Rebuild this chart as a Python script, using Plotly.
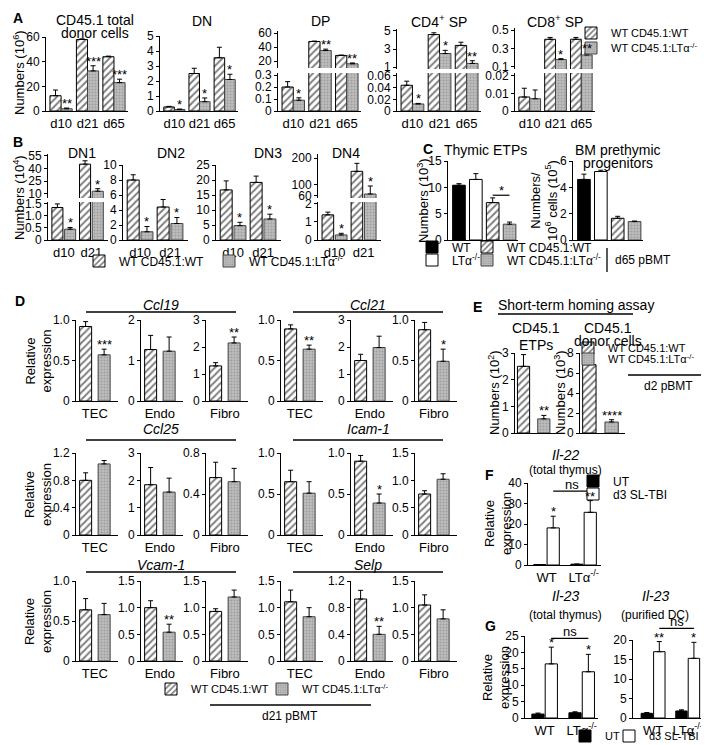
import plotly.graph_objects as go

W, H = 709, 745
FONT = "Liberation Sans, Arial, Helvetica, sans-serif"

# ======================= DATA =======================
days3 = ["d10", "d21", "d65"]
days2 = ["d10", "d21"]

# Panel A  (Numbers, 10^6)
a_total_wt = [12.4, 58.0, 44.0]
a_total_wt_err = [4.6, 0.5, 0.5]
a_total_lt = [1.8, 32.5, 23.0]
a_total_lt_err = [0.6, 4.2, 2.8]
a_total_sig = ["**", "***", "***"]

a_dn_wt = [0.27, 2.5, 3.55]
a_dn_wt_err = [0.04, 0.35, 0.7]
a_dn_lt = [0.1, 0.62, 2.1]
a_dn_lt_err = [0.03, 0.25, 0.35]
a_dn_sig = ["*", "*", "*"]

a_dp_wt = [0.2, 48.0, 28.0]
a_dp_wt_err = [0.045, 0.5, 0.5]
a_dp_lt = [0.09, 35.0, 16.0]
a_dp_lt_err = [0.02, 2.0, 1.2]
a_dp_sig = ["*", "**", "**"]

a_cd4_wt = [0.044, 4.6, 3.4]
a_cd4_wt_err = [0.007, 0.2, 0.35]
a_cd4_lt = [0.012, 2.5, 1.4]
a_cd4_lt_err = [0.001, 0.35, 0.3]
a_cd4_sig = ["*", "*", "**"]

a_cd8_wt = [0.008, 0.40, 0.40]
a_cd8_wt_err = [0.005, 0.02, 0.02]
a_cd8_lt = [0.007, 0.18, 0.23]
a_cd8_lt_err = [0.005, 0.01, 0.02]
a_cd8_sig = ["", "*", "**"]

# Panel B  (Numbers, 10^4)
b_dn1_wt = [1.35, 45.0]
b_dn1_wt_err = [0.15, 4.0]
b_dn1_lt = [0.45, 13.0]
b_dn1_lt_err = [0.07, 3.0]
b_dn1_sig = ["*", "*"]

b_dn2_wt = [8.0, 4.4]
b_dn2_wt_err = [0.7, 1.0]
b_dn2_lt = [1.1, 2.2]
b_dn2_lt_err = [0.7, 0.8]
b_dn2_sig = ["*", "*"]

b_dn3_wt = [16.7, 19.2]
b_dn3_wt_err = [3.0, 2.1]
b_dn3_lt = [4.8, 7.0]
b_dn3_lt_err = [1.1, 1.6]
b_dn3_sig = ["*", "*"]

b_dn4_wt = [1.39, 150.0]
b_dn4_wt_err = [0.15, 30.0]
b_dn4_lt = [0.28, 65.0]
b_dn4_lt_err = [0.09, 30.0]
b_dn4_sig = ["*", "*"]

# Panel C
c_groups = ["WT", "LTα<sup>-/-</sup>", "WT CD45.1:WT", "WT CD45.1:LTα<sup>-/-</sup>"]
c_etp = [10.4, 11.5, 7.1, 3.0]
c_etp_err = [0.3, 1.1, 0.9, 0.4]
c_etp_sigline = 8.5
c_bm = [4.6, 5.2, 1.65, 1.4]
c_bm_err = [0.4, 0.1, 0.15, 0.04]

# Panel D  (Relative expression), cells TEC, Endo, Fibro
d_cells = ["TEC", "Endo", "Fibro"]
d_ccl19_wt = [0.92, 1.27, 1.30]
d_ccl19_wt_err = [0.06, 0.35, 0.12]
d_ccl19_lt = [0.57, 1.23, 2.15]
d_ccl19_lt_err = [0.07, 0.35, 0.22]
d_ccl19_sig = ["***", "", "**"]

d_ccl21_wt = [0.89, 1.50, 0.88]
d_ccl21_wt_err = [0.05, 0.23, 0.09]
d_ccl21_lt = [0.64, 1.98, 0.49]
d_ccl21_lt_err = [0.05, 0.42, 0.15]
d_ccl21_sig = ["**", "", "*"]

d_ccl25_wt = [0.80, 1.84, 0.56]
d_ccl25_wt_err = [0.11, 0.63, 0.15]
d_ccl25_lt = [1.04, 1.57, 0.52]
d_ccl25_lt_err = [0.05, 0.51, 0.13]
d_ccl25_sig = ["", "", ""]

d_icam1_wt = [0.65, 0.90, 0.75]
d_icam1_wt_err = [0.14, 0.07, 0.06]
d_icam1_lt = [0.51, 0.39, 1.02]
d_icam1_lt_err = [0.14, 0.11, 0.10]
d_icam1_sig = ["", "*", ""]

d_vcam1_wt = [0.64, 1.00, 0.93]
d_vcam1_wt_err = [0.14, 0.13, 0.05]
d_vcam1_lt = [0.58, 0.54, 1.20]
d_vcam1_lt_err = [0.14, 0.15, 0.13]
d_vcam1_sig = ["", "**", ""]

d_selp_wt = [1.11, 0.93, 1.05]
d_selp_wt_err = [0.22, 0.13, 0.19]
d_selp_lt = [0.83, 0.40, 0.79]
d_selp_lt_err = [0.17, 0.12, 0.17]
d_selp_sig = ["", "**", ""]

# Panel E
e_labels = ["WT CD45.1:WT", "WT CD45.1:LTα<sup>-/-</sup>"]
e_etp = [2.5, 0.53]
e_etp_err = [0.44, 0.13]
e_etp_sig = ["", "**"]
e_donor = [6.83, 1.1]
e_donor_err = [0.34, 0.23]
e_donor_sig = ["", "****"]

# Panel F / G  (UT vs d3 SL-TBI)
fg_groups = ["WT", "LTα<sup>-/-</sup>"]
f_ut = [0.2, 0.4]
f_ut_err = [0.0, 0.0]
f_sl = [18.1, 25.7]
f_sl_err = [5.7, 5.7]
f_sig = ["*", "**"]
f_ns = 36.0

g1_ut = [1.2, 1.6]
g1_ut_err = [0.3, 0.3]
g1_sl = [16.5, 14.1]
g1_sl_err = [5.1, 5.3]
g1_sig = ["*", "*"]
g1_ns = 24.3

g2_ut = [1.2, 1.8]
g2_ut_err = [0.2, 0.3]
g2_sl = [17.0, 15.3]
g2_sl_err = [2.6, 4.1]
g2_sig = ["**", "*"]
g2_ns = 23.0

# ======================= STYLE / HELPERS =======================
HATCH = dict(color="white", line=dict(color="black", width=1),
             pattern=dict(shape="/", fgcolor="black", bgcolor="white", size=5, solidity=0.4))
DOTS = dict(color="#b0b0b0", line=dict(color="#444444", width=1),
            pattern=dict(shape=".", fgcolor="#808080", bgcolor="#bdbdbd", size=3, solidity=0.35))
BLACK = dict(color="black", line=dict(color="black", width=1))
WHITE = dict(color="white", line=dict(color="black", width=1))

fig = go.Figure()
layout = dict(width=W, height=H, margin=dict(l=0, r=0, t=0, b=0, autoexpand=False),
              paper_bgcolor="white", plot_bgcolor="rgba(0,0,0,0)",
              barmode="overlay", showlegend=True,
              font=dict(family=FONT, size=12, color="black"))
annotations = []
shapes = []
AXES = []


def fmt(v, nd):
    return "0" if v == 0 else f"{v:.{nd}f}"


def make_axes(x0, x1, ytop, ybot, xr, yr, yticks, nd=0, xticks=None, xtext=None,
              show_x=True, xfont=13):
    k = len(AXES) + 1
    s = "" if k == 1 else str(k)
    xd = [x0 / W, x1 / W]
    yd = [1 - ybot / H, 1 - ytop / H]
    layout["xaxis" + s] = dict(domain=xd, range=xr, anchor="y" + s, showline=show_x,
                               linecolor="black", linewidth=1, ticks="", showgrid=False,
                               zeroline=False, tickvals=(xticks if show_x else []),
                               ticktext=(xtext if show_x else []),
                               tickfont=dict(size=xfont), fixedrange=True)
    layout["yaxis" + s] = dict(domain=yd, range=yr, anchor="x" + s, showline=True,
                               linecolor="black", linewidth=1, ticks="outside", ticklen=3,
                               tickwidth=1, tickcolor="black", showgrid=False, zeroline=False,
                               tickvals=yticks, ticktext=[fmt(t, nd) for t in yticks],
                               tickfont=dict(size=12), fixedrange=True)
    ax = dict(x="x" + s, y="y" + s, xd=xd, yd=yd, xr=xr, yr=yr)
    AXES.append(ax)
    return ax


def pxs(ax, v):
    return ax["xd"][0] + (v - ax["xr"][0]) / (ax["xr"][1] - ax["xr"][0]) * (ax["xd"][1] - ax["xd"][0])


def pys(ax, v):
    return ax["yd"][0] + (v - ax["yr"][0]) / (ax["yr"][1] - ax["yr"][0]) * (ax["yd"][1] - ax["yd"][0])


LEGS = []


def legend_at(text_x, y, size=12):
    lid = "legend" + str(len(LEGS) + 2)
    LEGS.append(lid)
    layout[lid] = dict(x=(text_x - 47) / W, y=1 - (y - 7) / H, xanchor="left", yanchor="middle",
                       bgcolor="rgba(0,0,0,0)", borderwidth=0, font=dict(size=size),
                       tracegroupgap=0, itemclick=False, itemdoubleclick=False)
    return lid


def add_bars(ax, xs, ys, err, marker, width, legend=None, name="", clip=True):
    fig.add_trace(go.Bar(x=xs, y=ys, width=width, marker=marker,
                         error_y=dict(type="data", symmetric=False, array=err,
                                      arrayminus=[0] * len(ys), color="black",
                                      thickness=1, width=2.5),
                         xaxis=ax["x"], yaxis=ax["y"], name=name,
                         showlegend=legend is not None, legend=(legend or "legend"),
                         hoverinfo="skip", cliponaxis=clip))


def star(ax, x, y, t, size=13):
    if not t:
        return
    annotations.append(dict(x=pxs(ax, x), y=pys(ax, y), xref="paper", yref="paper", text=t,
                            showarrow=False, xanchor="center", yanchor="bottom", yshift=-5,
                            font=dict(size=size)))


def text(px, py, t, size=13, xanchor="center", angle=0, yanchor="middle"):
    annotations.append(dict(x=px / W, y=1 - py / H, xref="paper", yref="paper", text=t,
                            showarrow=False, xanchor=xanchor, yanchor=yanchor, textangle=angle,
                            font=dict(size=size)))


def line_px(x0, y0, x1, y1, w=1.3):
    shapes.append(dict(type="line", xref="paper", yref="paper", x0=x0 / W, x1=x1 / W,
                       y0=1 - y0 / H, y1=1 - y1 / H, line=dict(color="black", width=w)))


def sig_line(ax, xa, xb, v, t):
    y = pys(ax, v)
    shapes.append(dict(type="line", xref="paper", yref="paper", x0=pxs(ax, xa), x1=pxs(ax, xb),
                       y0=y, y1=y, line=dict(color="black", width=1.2)))
    annotations.append(dict(x=(pxs(ax, xa) + pxs(ax, xb)) / 2, y=y, xref="paper", yref="paper",
                            text=t, showarrow=False, xanchor="center", yanchor="bottom",
                            yshift=-3 if t == "ns" else -5, font=dict(size=13)))


def pair_plot(axes_list, gx, off, w, wt, wte, lt, lte, sig, leg_wt=None, leg_lt=None):
    wx = [g - off for g in gx]
    lx = [g + off for g in gx]
    for i, ax in enumerate(axes_list):
        add_bars(ax, wx, wt, wte, HATCH, w, legend=(leg_wt if i == 0 else None), name="WT CD45.1:WT")
        add_bars(ax, lx, lt, lte, DOTS, w, legend=(leg_lt if i == 0 else None),
                 name="WT CD45.1:LTα<sup>-/-</sup>")
    for j, s in enumerate(sig):
        top = lt[j] + lte[j]
        target = axes_list[-1]
        for ax in axes_list:
            if ax["yr"][0] <= top <= ax["yr"][1]:
                target = ax
        star(target, lx[j], top, s)


# ======================= PANEL A =======================
A_xr = [-0.57, 2.53]
gA = [0, 1, 2]
legA1 = legend_at(610, 32, 11)
legA2 = legend_at(610, 47, 11)
A1 = make_axes(38, 120, 29, 103, A_xr, [0, 60], [0, 20, 40, 60], 0, gA, days3)
pair_plot([A1], gA, 0.21, 0.42, a_total_wt, a_total_wt_err, a_total_lt, a_total_lt_err,
          a_total_sig, legA1, legA2)
A2 = make_axes(152, 230, 28, 103, A_xr, [0, 5], [0, 1, 2, 3, 4, 5], 0, gA, days3)
pair_plot([A2], gA, 0.21, 0.42, a_dn_wt, a_dn_wt_err, a_dn_lt, a_dn_lt_err, a_dn_sig)
A3u = make_axes(270, 353, 23, 60, A_xr, [10, 63], [20, 40, 60], 0, show_x=False)
A3l = make_axes(270, 353, 65, 103, A_xr, [0, 0.317], [0, 0.1, 0.2, 0.3], 1, gA, days3)
pair_plot([A3l, A3u], gA, 0.21, 0.42, a_dp_wt, a_dp_wt_err, a_dp_lt, a_dp_lt_err, a_dp_sig)
A4u = make_axes(389, 473, 21, 61, A_xr, [0.78, 5.22], [1, 3, 5], 0, show_x=False)
A4l = make_axes(389, 473, 65, 103, A_xr, [0, 0.065], [0, 0.02, 0.04, 0.06], 2, gA, days3)
pair_plot([A4l, A4u], gA, 0.21, 0.42, a_cd4_wt, a_cd4_wt_err, a_cd4_lt, a_cd4_lt_err, a_cd4_sig)
A5u = make_axes(507, 587, 20, 61, A_xr, [0.078, 0.522], [0.1, 0.3, 0.5], 1, show_x=False)
A5l = make_axes(507, 587, 65, 103, A_xr, [0, 0.0217], [0, 0.01, 0.02], 2, gA, days3)
pair_plot([A5l, A5u], gA, 0.21, 0.42, a_cd8_wt, a_cd8_wt_err, a_cd8_lt, a_cd8_lt_err, a_cd8_sig)

text(3, 10, "<b>A</b>", 14, xanchor="left")
text(87, 12, "CD45.1 total", 14)
text(87, 25, "donor cells", 14)
text(194, 13, "DN", 14)
text(312, 13, "DP", 14)
text(431, 13, "CD4<sup>+</sup> SP", 14)
text(547, 13, "CD8<sup>+</sup> SP", 14)
text(11, 65, "Numbers (10<sup>6</sup>)", 13, angle=-90)

# ======================= PANEL B =======================
B_xr = [-0.57, 1.6]
gB = [0, 1]
legB1 = legend_at(118, 260)
legB2 = legend_at(248, 260)
B1u = make_axes(40, 100, 146, 190, B_xr, [5, 57], [10, 25, 40, 55], 0, show_x=False)
B1l = make_axes(40, 100, 194, 232, B_xr, [0, 1.58], [0, 0.5, 1.0, 1.5], 1, gB, days2)
pair_plot([B1l, B1u], gB, 0.23, 0.4, b_dn1_wt, b_dn1_wt_err, b_dn1_lt, b_dn1_lt_err, b_dn1_sig,
          legB1, legB2)
B2 = make_axes(115, 180, 157, 232, B_xr, [0, 10], [0, 2, 4, 6, 8, 10], 0, gB, days2)
pair_plot([B2], gB, 0.23, 0.4, b_dn2_wt, b_dn2_wt_err, b_dn2_lt, b_dn2_lt_err, b_dn2_sig)
B3 = make_axes(208, 273, 157, 232, B_xr, [0, 25], [0, 5, 10, 15, 20, 25], 0, gB, days2)
pair_plot([B3], gB, 0.23, 0.4, b_dn3_wt, b_dn3_wt_err, b_dn3_lt, b_dn3_lt_err, b_dn3_sig)
B4u = make_axes(310, 373, 146, 190, B_xr, [50, 215], [60, 100, 200], 0, show_x=False)
B4l = make_axes(310, 373, 194, 232, B_xr, [0, 2.1], [0, 1, 2], 0, gB, days2)
pair_plot([B4l, B4u], gB, 0.23, 0.4, b_dn4_wt, b_dn4_wt_err, b_dn4_lt, b_dn4_lt_err, b_dn4_sig)

text(3, 134, "<b>B</b>", 14, xanchor="left")
text(74, 145, "DN1", 14)
text(163, 145, "DN2", 14)
text(260, 145, "DN3", 14)
text(338, 145, "DN4", 14)
text(11, 190, "Numbers (10<sup>4</sup>)", 13, angle=-90)

# ======================= PANEL C =======================
C_xr = [-0.65, 3.5]
gC = [0, 1, 2, 3]
c_markers = [BLACK, WHITE, HATCH, DOTS]
c_leg = [legend_at(451, 246), legend_at(451, 259), legend_at(506, 246), legend_at(506, 259)]
C1 = make_axes(440, 510, 153, 232, C_xr, [0, 15], [0, 5, 10, 15], 0, [], [])
C2 = make_axes(565, 635, 153, 232, C_xr, [0, 6], [0, 2, 4, 6], 0, [], [])
for i in range(4):
    add_bars(C1, [gC[i]], [c_etp[i]], [c_etp_err[i]], c_markers[i], 0.75,
             legend=c_leg[i], name=c_groups[i])
    add_bars(C2, [gC[i]], [c_bm[i]], [c_bm_err[i]], c_markers[i], 0.75)
sig_line(C1, gC[2], gC[3], c_etp_sigline, "*")

text(413, 141, "<b>C</b>", 14, xanchor="left")
text(478, 142, "Thymic ETPs", 14)
text(610, 142, "BM prethymic", 14)
text(610, 155, "progenitors", 14)
text(415, 193, "Numbers (10<sup>3</sup>)", 13, angle=-90)
text(536, 193, "Numbers/<br>10<sup>6</sup> cells (10<sup>5</sup>)", 13, angle=-90)
line_px(599, 240, 599, 264, 1.3)
text(605, 252, "d65 pBMT", 12, xanchor="left")

# ======================= PANEL D =======================
D_xr = [-0.52, 1.75]
d_genes = [
    ("Ccl19", d_ccl19_wt, d_ccl19_wt_err, d_ccl19_lt, d_ccl19_lt_err, d_ccl19_sig),
    ("Ccl21", d_ccl21_wt, d_ccl21_wt_err, d_ccl21_lt, d_ccl21_lt_err, d_ccl21_sig),
    ("Ccl25", d_ccl25_wt, d_ccl25_wt_err, d_ccl25_lt, d_ccl25_lt_err, d_ccl25_sig),
    ("Icam-1", d_icam1_wt, d_icam1_wt_err, d_icam1_lt, d_icam1_lt_err, d_icam1_sig),
    ("Vcam-1", d_vcam1_wt, d_vcam1_wt_err, d_vcam1_lt, d_vcam1_lt_err, d_vcam1_sig),
    ("Selp", d_selp_wt, d_selp_wt_err, d_selp_lt, d_selp_lt_err, d_selp_sig),
]
d_yaxes = [
    [([0, 0.5, 1.0], 1), ([0, 1, 2], 0), ([0, 1, 2, 3], 0)],
    [([0, 0.5, 1.0], 1), ([0, 1, 2, 3], 0), ([0, 0.5, 1.0], 1)],
    [([0, 0.4, 0.8, 1.2], 1), ([0, 1, 2, 3], 0), ([0, 0.4, 0.8], 1)],
    [([0, 0.5, 1.0], 1), ([0, 0.5, 1.0], 1), ([0, 0.5, 1.0, 1.5], 1)],
    [([0, 0.5, 1.0], 1), ([0, 0.5, 1.0, 1.5], 1), ([0, 0.5, 1.0, 1.5], 1)],
    [([0, 0.5, 1.0, 1.5], 1), ([0, 0.4, 0.8, 1.2], 1), ([0, 0.5, 1.0, 1.5], 1)],
]
d_rows = [(312, 393, 297, 304), (445, 527, 421, 432), (573, 653, 557, 564)]
d_cols = [[68, 133, 198], [273, 343, 407]]
d_lines = [(78, 228), (285, 435)]
d_leg1 = legend_at(190, 688, 11)
d_leg2 = legend_at(301, 688, 11)
for gi, (gname, wt, wte, lt, lte, sg) in enumerate(d_genes):
    r, c = gi // 2, gi % 2
    ytop, ybot, ty, ly = d_rows[r]
    for k in range(3):
        ticks, nd = d_yaxes[gi][k]
        x0 = d_cols[c][k]
        ax = make_axes(x0, x0 + 42, ytop, ybot, D_xr, [0, ticks[-1]], ticks, nd, [0.5], [d_cells[k]])
        first = gi == 0 and k == 0
        add_bars(ax, [0], [wt[k]], [wte[k]], HATCH, 0.65, legend=(d_leg1 if first else None),
                 name="WT CD45.1:WT")
        add_bars(ax, [1], [lt[k]], [lte[k]], DOTS, 0.65, legend=(d_leg2 if first else None),
                 name="WT CD45.1:LTα<sup>-/-</sup>")
        star(ax, 1, lt[k] + lte[k], sg[k])
    lx0, lx1 = d_lines[c]
    line_px(lx0, ly, lx1, ly, 1.5)
    text((lx0 + lx1) / 2, ty, "<i>" + gname + "</i>", 14)
for r in range(3):
    text(30, (d_rows[r][0] + d_rows[r][1]) / 2, "Relative<br>expression", 13, angle=-90)
text(5, 293, "<b>D</b>", 14, xanchor="left")
line_px(202, 697, 363, 697, 1.3)
text(282, 708, "d21 pBMT", 12)

# ======================= PANEL E =======================
E_xr = [-0.42, 1.6]
legE1 = legend_at(607, 347, 11)
legE2 = legend_at(607, 358, 11)
E1 = make_axes(507, 548, 345, 425, E_xr, [0, 3], [0, 1, 2, 3], 0, [], [])
add_bars(E1, [0], [e_etp[0]], [e_etp_err[0]], HATCH, 0.6, legend=legE1, name=e_labels[0])
add_bars(E1, [1], [e_etp[1]], [e_etp_err[1]], DOTS, 0.6, legend=legE2, name=e_labels[1])
star(E1, 1, e_etp[1] + e_etp_err[1], e_etp_sig[1])
E2 = make_axes(572, 617, 345, 425, E_xr, [0, 8], [0, 2, 4, 6, 8], 0, [], [])
add_bars(E2, [0], [e_donor[0]], [e_donor_err[0]], HATCH, 0.6)
add_bars(E2, [1], [e_donor[1]], [e_donor_err[1]], DOTS, 0.6)
star(E2, 1, e_donor[1] + e_donor_err[1], e_donor_sig[1])

text(463, 299, "<b>E</b>", 14, xanchor="left")
text(568, 297, "Short-term homing assay", 14)
line_px(490, 306, 625, 306, 1.5)
text(528, 320, "CD45.1", 14)
text(528, 337, "ETPs", 14)
text(600, 320, "CD45.1", 14)
text(600, 333, "donor cells", 14)
text(486, 385, "Numbers (10<sup>2</sup>)", 13, angle=-90)
text(552, 385, "Numbers (10<sup>3</sup>)", 13, angle=-90)
line_px(620, 367, 698, 367, 1.3)
text(660, 378, "d2 pBMT", 12)

# ======================= PANEL F =======================
gF = [0, 1]
legF1 = legend_at(612, 480)
legF2 = legend_at(612, 493)
F1 = make_axes(520, 593, 475, 557, [-0.5, 1.47], [0, 40], [0, 10, 20, 30, 40], 0, gF, fg_groups)
add_bars(F1, [g - 0.18 for g in gF], f_ut, f_ut_err, BLACK, 0.33, legend=legF1, name="UT")
add_bars(F1, [g + 0.18 for g in gF], f_sl, f_sl_err, WHITE, 0.33, legend=legF2, name="d3 SL-TBI")
for j in range(2):
    star(F1, gF[j] + 0.18, f_sl[j] + f_sl_err[j], f_sig[j])
sig_line(F1, gF[0] + 0.18, gF[1] + 0.18, f_ns, "ns")
text(557, 447, "<i>Il-22</i>", 14)
text(557, 462, "(total thymus)", 12)
text(475, 467, "<b>F</b>", 14, xanchor="left")
text(490, 516, "Relative<br>expression", 13, angle=-90)

# ======================= PANEL G =======================
legG1 = legend_at(604, 735, 11)
legG2 = legend_at(648, 735, 11)
G1 = make_axes(517, 590, 628, 710, [-0.53, 1.44], [0, 25], [0, 5, 10, 15, 20, 25], 0, gF, fg_groups)
add_bars(G1, [g - 0.18 for g in gF], g1_ut, g1_ut_err, BLACK, 0.33, legend=legG1, name="UT")
add_bars(G1, [g + 0.18 for g in gF], g1_sl, g1_sl_err, WHITE, 0.33, legend=legG2, name="d3 SL-TBI")
for j in range(2):
    star(G1, gF[j] + 0.18, g1_sl[j] + g1_sl_err[j], g1_sig[j])
sig_line(G1, gF[0] + 0.18, gF[1] + 0.18, g1_ns, "ns")
G2 = make_axes(625, 697, 632, 710, [-0.58, 1.5], [0, 20], [0, 5, 10, 15, 20], 0, gF, fg_groups)
add_bars(G2, [g - 0.18 for g in gF], g2_ut, g2_ut_err, BLACK, 0.33, clip=False)
add_bars(G2, [g + 0.18 for g in gF], g2_sl, g2_sl_err, WHITE, 0.33, clip=False)
for j in range(2):
    star(G2, gF[j] + 0.18, g2_sl[j] + g2_sl_err[j], g2_sig[j])
sig_line(G2, gF[0] + 0.18, gF[1] + 0.18, g2_ns, "ns")
text(557, 588, "<i>Il-23</i>", 14)
text(557, 607, "(total thymus)", 12)
text(647, 588, "<i>Il-23</i>", 14)
text(647, 607, "(purified DC)", 12)
text(475, 618, "<b>G</b>", 14, xanchor="left")
text(488, 670, "Relative<br>expression", 13, angle=-90)

layout["annotations"] = annotations
layout["shapes"] = shapes
fig.update_layout(layout)
fig.write_html("out.html")
